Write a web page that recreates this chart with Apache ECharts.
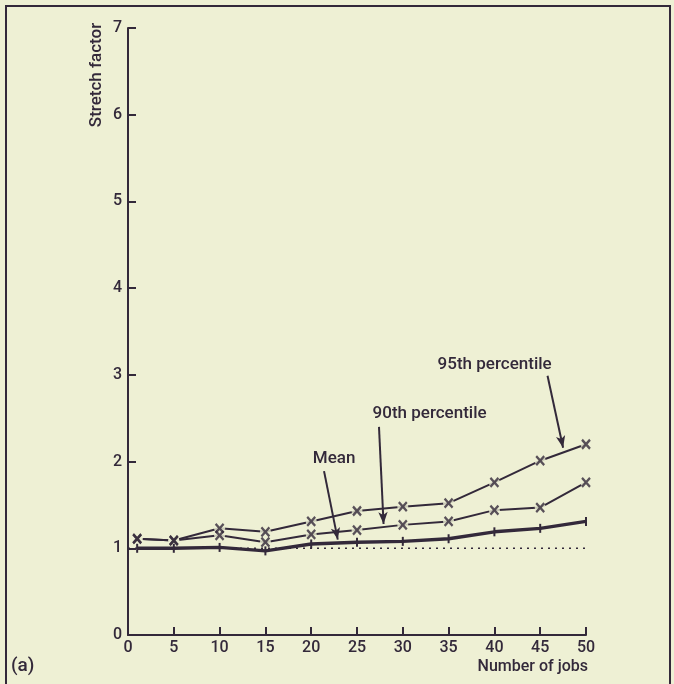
<!DOCTYPE html>
<html>
<head>
<meta charset="utf-8">
<script src="https://cdn.jsdelivr.net/npm/echarts@6/dist/echarts.min.js"></script>
<style>
html,body{margin:0;padding:0;background:#eef0d4;}
#c{width:674px;height:684px;}
</style>
</head>
<body>
<div id="c"></div>
<script>
// ---- data ----
var jobs   = [1, 5, 10, 15, 20, 25, 30, 35, 40, 45, 50];
var p95    = [1.11, 1.09, 1.23, 1.19, 1.31, 1.43, 1.48, 1.52, 1.76, 2.01, 2.20];
var p90    = [1.11, 1.09, 1.15, 1.07, 1.16, 1.21, 1.27, 1.31, 1.44, 1.47, 1.76];
var meanV  = [1.00, 1.00, 1.01, 0.97, 1.05, 1.07, 1.08, 1.11, 1.19, 1.23, 1.31];
var xTicks = [0, 5, 10, 15, 20, 25, 30, 35, 40, 45, 50];
var yTicks = [0, 1, 2, 3, 4, 5, 6, 7];
var baseline = 1;
// annotation anchors in data units: [text, textX, textY, arrowFromX, arrowFromY, arrowToX, arrowToY, align]
var annMean = ['Mean', 22.5, 2.03, 21.4, 1.89, 22.9, 1.10, 'center'];
var ann90   = ['90th percentile', 26.7, 2.55, 27.4, 2.40, 27.9, 1.28, 'left'];
var ann95   = ['95th percentile', 33.8, 3.12, 45.8, 2.99, 47.5, 2.16, 'left'];

var INK = '#33293a';
var BG = '#eef0d4';
var FONT = 'Roboto';

function pairs(xs, ys){ return xs.map(function(x,i){ return [x, ys[i]]; }); }
var xPath = 'path://M0,0L10,10M10,0L0,10';

var chart = echarts.init(document.getElementById('c'));
var anns = [annMean, ann90, ann95];

var option = {
  backgroundColor: BG,
  animation: false,
  grid: {left: 128, right: 88, top: 28, bottom: 49},
  xAxis: {
    type: 'value', min: xTicks[0], max: xTicks[xTicks.length - 1], interval: 5,
    axisLine: {show: true, lineStyle: {color: INK, width: 2}},
    axisTick: {show: true, inside: true, length: 8, lineStyle: {color: INK, width: 2}},
    axisLabel: {color: INK, fontFamily: FONT, fontWeight: 500, fontSize: 16, margin: 5},
    splitLine: {show: false}
  },
  yAxis: {
    type: 'value', min: yTicks[0], max: yTicks[yTicks.length - 1], interval: 1,
    axisLine: {show: true, lineStyle: {color: INK, width: 2}},
    axisTick: {show: true, inside: true, length: 8, lineStyle: {color: INK, width: 2}},
    axisLabel: {color: INK, fontFamily: FONT, fontWeight: 500, fontSize: 16, margin: 6},
    splitLine: {show: false}
  },
  series: [
    {
      type: 'line', data: [[0, baseline], [50, baseline]], showSymbol: false,
      lineStyle: {color: INK, width: 1.6, type: [2, 5]}, z: 1, silent: true
    },
    {
      type: 'line', data: pairs(jobs, p95), showSymbol: false,
      lineStyle: {color: INK, width: 2}, z: 2,
      markLine: {
        silent: true, symbol: ['none', 'arrow'], symbolSize: [7, 12],
        lineStyle: {color: INK, width: 2, type: 'solid'},
        label: {show: false},
        data: anns.map(function(a){
          return [{coord: [a[3], a[4]]}, {coord: [a[5], a[6]]}];
        })
      }
    },
    {
      type: 'line', data: pairs(jobs, p90), showSymbol: false,
      lineStyle: {color: INK, width: 2}, z: 2
    },
    {
      type: 'scatter', data: pairs(jobs, p95).concat(pairs(jobs, p90)),
      symbol: 'circle', symbolSize: 11, itemStyle: {color: BG}, z: 3, silent: true
    },
    {
      type: 'scatter', data: pairs(jobs, p95).concat(pairs(jobs, p90)),
      symbol: xPath, symbolSize: [8, 9],
      itemStyle: {color: 'none', borderColor: INK, borderWidth: 2.4}, z: 4, silent: true
    },
    {
      type: 'line', data: pairs(jobs, meanV), showSymbol: true,
      symbol: 'rect', symbolSize: [2, 9],
      itemStyle: {color: INK},
      lineStyle: {color: INK, width: 3.4}, z: 5
    }
  ],
  graphic: []
};
chart.setOption(option);

var g = [];
anns.forEach(function(a){
  var p = chart.convertToPixel({gridIndex: 0}, [a[1], a[2]]);
  g.push({
    type: 'text', x: p[0], y: p[1], z: 10,
    style: {text: a[0], fill: INK, font: '500 17px ' + FONT, align: a[7], verticalAlign: 'middle'}
  });
});
g.push({
  type: 'text', x: 97, y: 75, rotation: Math.PI / 2, z: 10,
  style: {text: 'Stretch factor', fill: INK, font: '500 17px ' + FONT, align: 'center', verticalAlign: 'middle'}
});
g.push({
  type: 'text', x: 588, y: 667, z: 10,
  style: {text: 'Number of jobs', fill: INK, font: '500 16px ' + FONT, align: 'right', verticalAlign: 'middle'}
});
g.push({
  type: 'text', x: 11, y: 666, z: 10,
  style: {text: '(a)', fill: INK, font: '500 19px ' + FONT, align: 'left', verticalAlign: 'middle'}
});
g.push({
  type: 'rect', shape: {x: 6, y: 6, width: 664, height: 680}, z: 0,
  style: {fill: 'none', stroke: INK, lineWidth: 2}
});
chart.setOption({graphic: g});
</script>
</body>
</html>
